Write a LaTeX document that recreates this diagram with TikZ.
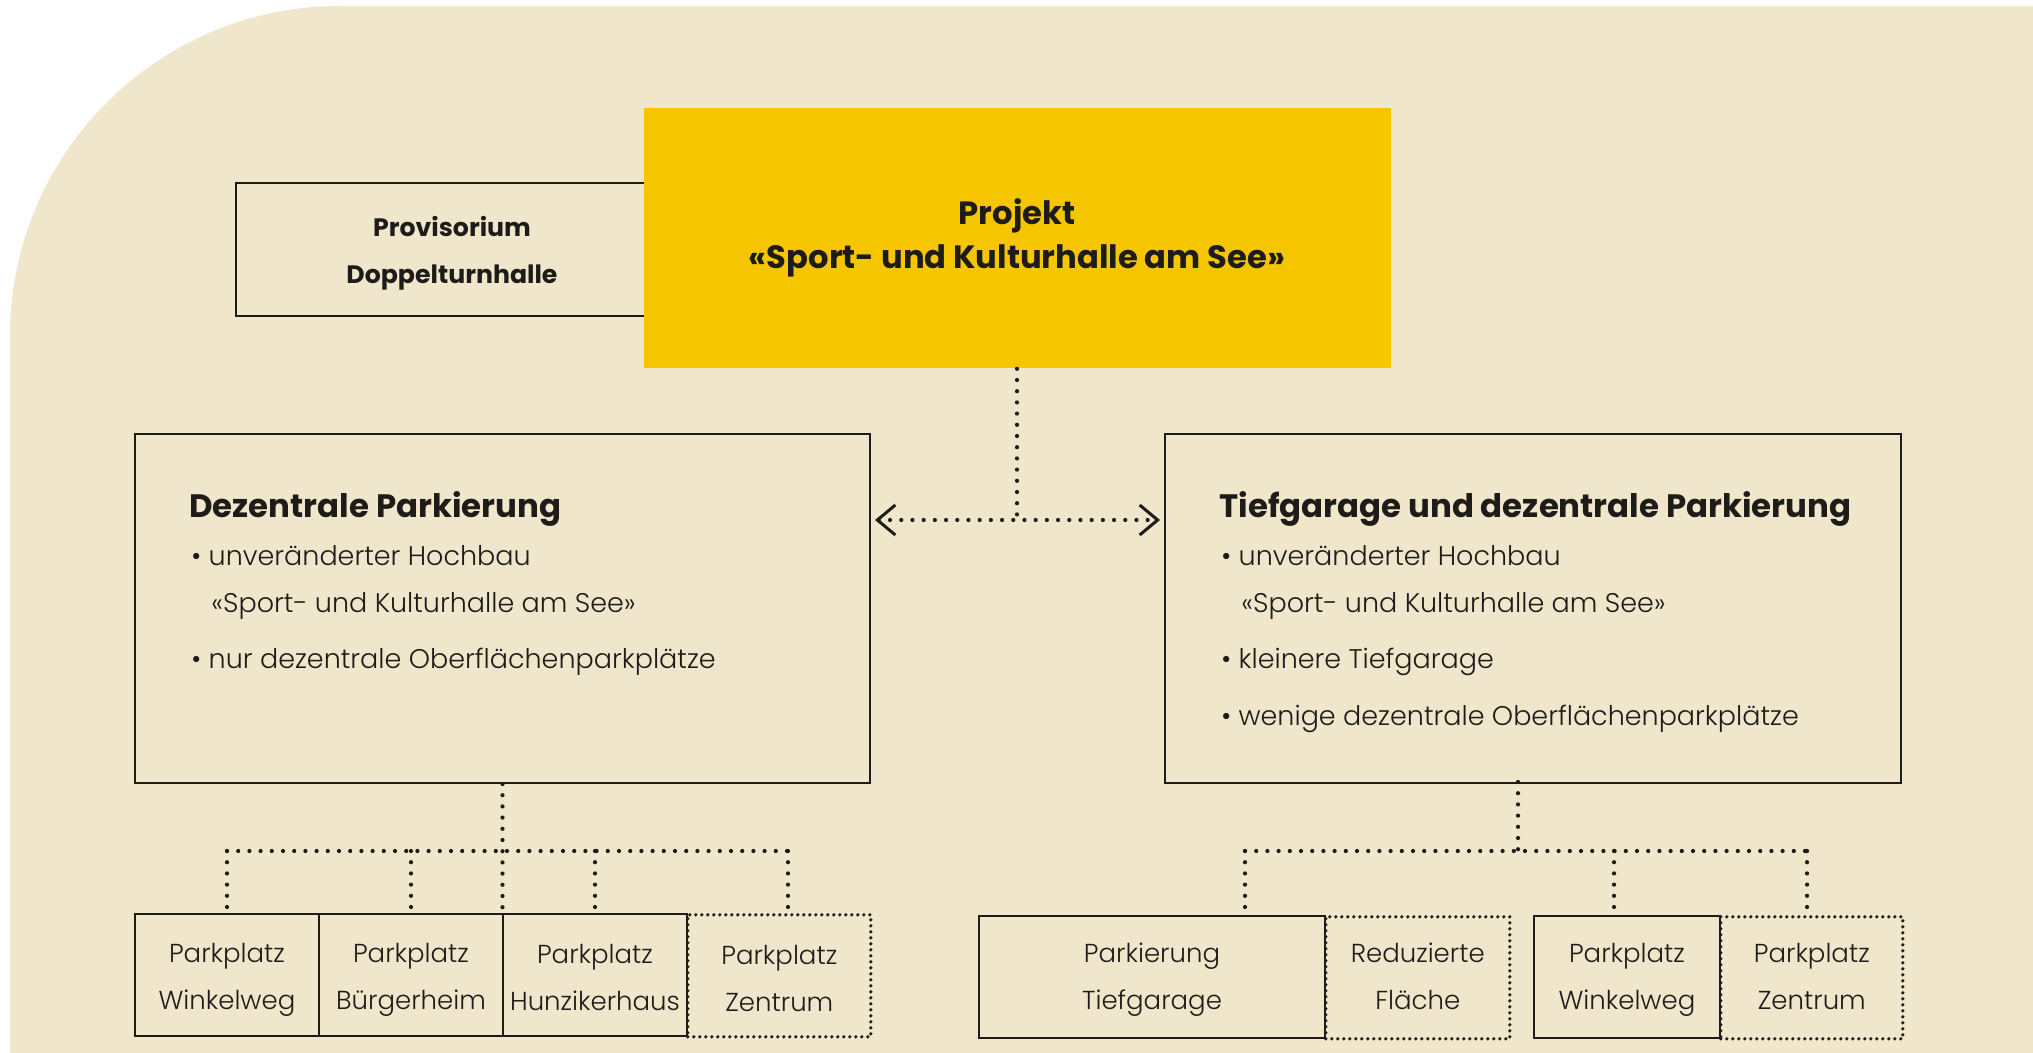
\documentclass[tikz,border=0pt]{standalone}
\usepackage{fontspec}
\setmainfont{Poppins}
\newfontfamily\plight{Poppins}[UprightFont=* Light]
\usetikzlibrary{arrows.meta}
\definecolor{bgc}{HTML}{F0E6CC}
\definecolor{yel}{HTML}{F5C500}
\definecolor{ink}{HTML}{1E1C18}
\begin{document}
\begin{tikzpicture}[x=0.5pt,y=-0.5pt,
  box/.style={draw=ink, line width=1pt, inner sep=0pt, anchor=north west},
  dbox/.style={draw=ink, line width=1.8pt, line cap=round, dash pattern=on 0pt off 3pt, inner sep=0pt, anchor=north west},
  conn/.style={draw=ink, line width=2.1pt, line cap=round, dash pattern=on 0pt off 5.6pt},
  smalltxt/.style={font=\plight\fontsize{13}{23.3}\selectfont, align=center, text=ink},
  bodytxt/.style={font=\plight\fontsize{13.5}{15}\selectfont, anchor=base west, text=ink, inner sep=0pt},
  headtxt/.style={font=\bfseries\fontsize{16.2}{20}\selectfont, anchor=base west, text=ink, inner sep=0pt},
  barb/.tip={Straight Barb[length=9pt,width=15pt,line width=1.5pt,line cap=butt]}]
\useasboundingbox (0,0) rectangle (2033,1053);
\fill[white] (0,0) rectangle (2033,1053);
\fill[bgc] (10,1053) [rounded corners=165pt] -- (10,6) [sharp corners] -- (2033,6) -- (2033,1053) -- cycle;

% top
\node[box, minimum width=204.5pt, minimum height=66.5pt] (prov) at (235,182) {};
\node[font=\bfseries\fontsize{12.6}{23.3}\selectfont, align=center, text=ink] (provt) at (452,253) {Provisorium\\Doppelturnhalle};
\node[fill=yel, inner sep=0pt, minimum width=373.5pt, minimum height=130pt, anchor=north west] (proj) at (644,108) {};
\node[font=\bfseries\fontsize{16.1}{22}\selectfont, align=center, text=ink] (projt) at (1017,238) {Projekt\\«Sport- und Kulturhalle am See»};

% big boxes
\node[box, minimum width=367.5pt, minimum height=174.5pt] (lbox) at (134,433) {};
\node[box, minimum width=368pt, minimum height=174.5pt] (rbox) at (1164,433) {};

\node[headtxt] (lh) at (189,517) {Dezentrale Parkierung};
\node[bodytxt] (l1) at (191,565) {• unveränderter Hochbau};
\node[bodytxt] (l2) at (211,612) {«Sport- und Kulturhalle am See»};
\node[bodytxt] (l3) at (191,668) {• nur dezentrale Oberflächenparkplätze};

\node[headtxt] (rh) at (1219,517) {Tiefgarage und dezentrale Parkierung};
\node[bodytxt] (r1) at (1221,565) {• unveränderter Hochbau};
\node[bodytxt] (r2) at (1241,612) {«Sport- und Kulturhalle am See»};
\node[bodytxt] (r3) at (1221,668) {• kleinere Tiefgarage};
\node[bodytxt] (r4) at (1221,725) {• wenige dezentrale Oberflächenparkplätze};

% connectors top
\coordinate (mid) at (1017,520);
\draw[conn] (proj.south -| mid) -- (mid);
\draw[conn, barb-barb] ([xshift=2pt]lbox.east |- mid) -- ([xshift=-2pt]rbox.west |- mid);

% bottom left boxes
\node[dbox, minimum width=91.5pt, minimum height=61pt] (lb4) at (686,913) {};
\node[box, minimum width=92pt, minimum height=61pt] (lb1) at (134,913) {};
\node[box, minimum width=92pt, minimum height=61pt] (lb2) at (318,913) {};
\node[box, minimum width=92pt, minimum height=61pt] (lb3) at (502,913) {};
\node[smalltxt, yshift=-2.4pt] (lt1) at (lb1.center) {Parkplatz\\Winkelweg};
\node[smalltxt, yshift=-2.4pt] (lt2) at (lb2.center) {Parkplatz\\Bürgerheim};
\node[smalltxt, yshift=-1.3pt] (lt3) at (lb3.center) {Parkplatz\\Hunzikerhaus};
\node[smalltxt, yshift=-1.3pt] (lt4) at (lb4.center) {Parkplatz\\Zentrum};

\coordinate (lj) at (500,851);
\coordinate (ld4) at (788,851);
\draw[conn] (lbox.south) -- (lbox.south |- lb2.north);
\draw[conn] (lb1.north |- lj) -- (ld4);
\draw[conn] (lb1.north |- lj) -- (lb1.north);
\draw[conn] (lb2.north |- lj) -- (lb2.north);
\draw[conn] (lb3.north |- lj) -- (lb3.north);
\draw[conn] (ld4) -- (ld4 |- lb4.north);

% bottom right boxes
\node[dbox, minimum width=92pt, minimum height=61pt] (rb2) at (1324,915) {};
\node[dbox, minimum width=91pt, minimum height=61pt] (rb4) at (1719,915) {};
\node[box, minimum width=173pt, minimum height=61pt] (rb1) at (978,915) {};
\node[box, minimum width=93pt, minimum height=61pt] (rb3) at (1533,915) {};
\node[smalltxt, yshift=-1.3pt] (rt1) at (rb1.center) {Parkierung\\Tiefgarage};
\node[smalltxt, yshift=0.7pt] (rt2) at (rb2.center) {Reduzierte\\Fläche};
\node[smalltxt, yshift=-1.3pt] (rt3) at (rb3.center) {Parkplatz\\Winkelweg};
\node[smalltxt, yshift=0.7pt] (rt4) at (rb4.center) {Parkplatz\\Zentrum};

\coordinate (rtop) at (1518,782);
\coordinate (rj) at (1518,851);
\coordinate (rd1) at (1245,851);
\coordinate (rd3) at (1614,851);
\coordinate (rd4) at (1807,851);
\draw[conn] (rtop) -- (rj);
\draw[conn] (rd1) -- (rd4);
\draw[conn] (rd1) -- (rd1 |- rb1.north);
\draw[conn] (rd3) -- (rd3 |- rb3.north);
\draw[conn] (rd4) -- (rd4 |- rb4.north);
\end{tikzpicture}
\end{document}
